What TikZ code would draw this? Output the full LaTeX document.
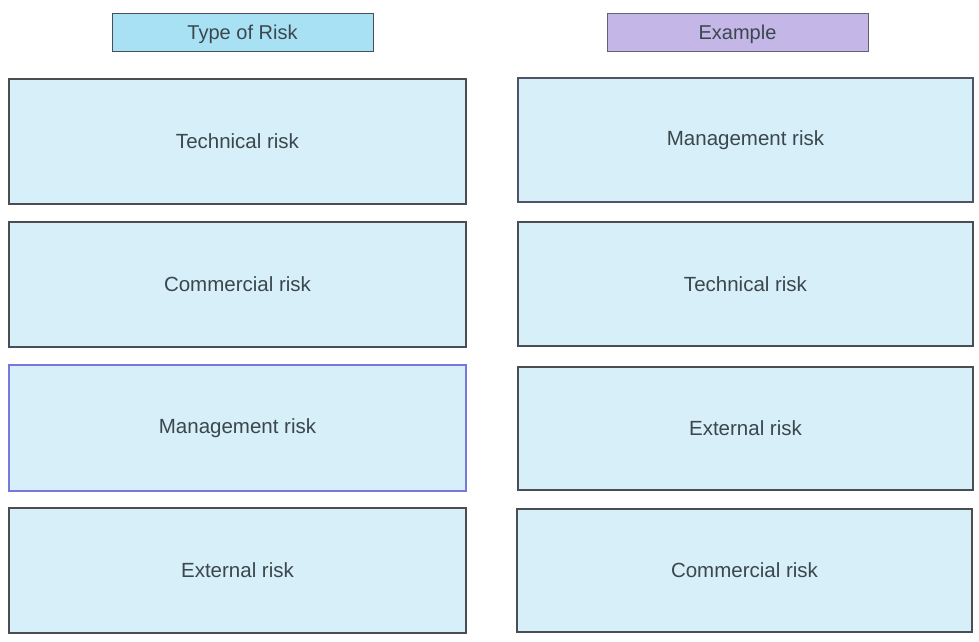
\documentclass[tikz,border=0pt]{standalone}
\usepackage{fontspec}
\setmainfont{Liberation Sans}
\definecolor{cellfill}{HTML}{D6EFF8}
\definecolor{cellline}{HTML}{4A4E52}
\definecolor{selline}{HTML}{7777DD}
\definecolor{typefill}{HTML}{A9E1F4}
\definecolor{examplefill}{HTML}{C4B6E7}
\definecolor{labeltext}{HTML}{3B474D}
\begin{document}
\begin{tikzpicture}[x=1pt,y=-1pt,
  cell/.style={draw=cellline,line width=1.2pt,fill=cellfill,inner sep=0pt,
    font=\fontsize{20.5}{24}\selectfont,text=labeltext},
  head/.style={cell,line width=1pt,text depth=0pt,font=\fontsize{20}{24}\selectfont},
]
\useasboundingbox (0,0) rectangle (979,641);
% column headers
\node[head,fill=typefill,minimum width=261pt,minimum height=38pt] (hType) at (242.5,32) {Type of Risk};
\node[head,fill=examplefill,draw=cellline!80!examplefill,minimum width=261pt,minimum height=38pt] (hExample) at (737.5,32) {Example};
% left column: types of risk
\node[cell,minimum width=457pt,minimum height=125pt] (t1) at (237.5,141.5) {Technical risk};
\node[cell,minimum width=457pt,minimum height=125pt] (t2) at (237.5,284.5) {Commercial risk};
\node[cell,draw=selline,minimum width=457pt,minimum height=126pt] (t3) at (237.5,428) {Management risk};
\node[cell,minimum width=457pt,minimum height=125pt] (t4) at (237.5,570.5) {External risk};
% right column: examples
\node[cell,draw=cellline!85!selline,minimum width=455pt,minimum height=124pt] (e1) at (745.5,140) {Management risk};
\node[cell,minimum width=455pt,minimum height=124pt] (e2) at (745.5,284) {Technical risk};
\node[cell,minimum width=455pt,minimum height=123pt] (e3) at (745.5,428.5) {External risk};
\node[cell,minimum width=455pt,minimum height=123pt] (e4) at (744.5,570.5) {Commercial risk};
\end{tikzpicture}
\end{document}
